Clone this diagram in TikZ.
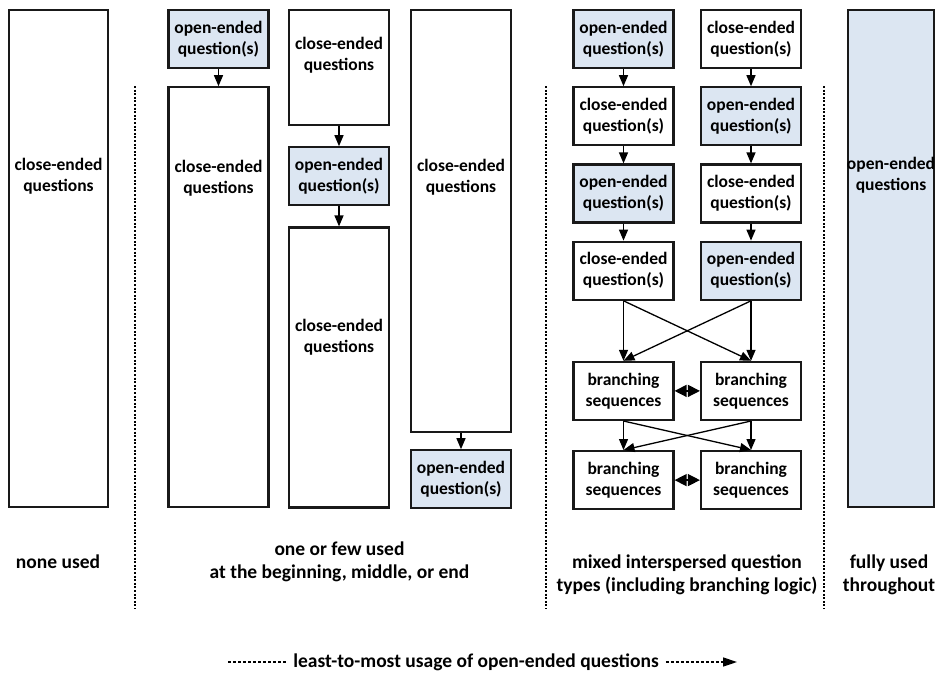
\documentclass[tikz,border=0pt]{standalone}
\usepackage{fontspec}
\setmainfont{Carlito}
\usetikzlibrary{arrows.meta, positioning}
\definecolor{openblue}{HTML}{DCE6F2}
\newcommand{\boxfont}{\bfseries\fontsize{17.5}{21}\selectfont}
\newcommand{\capfont}{\bfseries\fontsize{19.5}{23}\selectfont}

\begin{document}
\begin{tikzpicture}[x=1pt, y=-1pt,
    qbox/.style={draw=black!90, line width=2.2pt, fill=white, minimum width=100pt,
        minimum height=58pt, inner sep=2pt, align=center, font=\boxfont},
    obox/.style={qbox, fill=openblue},
    boxtext/.style={anchor=center, align=center, font=\boxfont},
    footlabel/.style={align=center, font=\capfont},
    flow/.style={-{Triangle[width=9pt,length=11pt]}, line width=1.3pt},
    bothway/.style={{Triangle[width=12pt,length=12pt]}-{Triangle[width=12pt,length=12pt]}, line width=1.3pt},
    sep/.style={line width=2.2pt, dash pattern=on 2pt off 1.6pt},
    trend/.style={line width=1.6pt, dash pattern=on 3pt off 2pt}]
    \useasboundingbox (0,0) rectangle (949,673);

    % none used
    \node[qbox, minimum width=99pt, minimum height=497pt, anchor=north,
        label={[boxtext, yshift=-167pt]north:close-ended\\questions}] (none) at (58.5,9) {};

    % one or few used
    \node[obox, anchor=north]       (begopen)   at (218.5,9)    {open-ended\\question(s)};
    \node[qbox, minimum height=420pt, below=17pt of begopen,
        label={[boxtext, yshift=-92pt]north:close-ended\\questions}] (begclose) {};

    \node[qbox, minimum height=115pt, anchor=north,
        label={[boxtext, yshift=-46pt]north:close-ended\\questions}] (midclosea) at (339,9) {};
    \node[obox, below=20pt of midclosea]    (midopen)   {open-ended\\question(s)};
    \node[qbox, minimum height=280pt, below=20pt of midopen,
        label={[boxtext, yshift=-111pt]north:close-ended\\questions}] (midcloseb) {};

    \node[qbox, minimum height=422pt, anchor=north,
        label={[boxtext, yshift=-168pt]north:close-ended\\questions}] (endclose) at (461,9) {};
    \node[obox, below=16pt of endclose]     (endopen)   {open-ended\\question(s)};

    % mixed
    \node[obox, anchor=north]       (mixa1) at (623.5,9)    {open-ended\\question(s)};
    \node[qbox, below=17pt of mixa1]        (mixa2)     {close-ended\\question(s)};
    \node[obox, below=17pt of mixa2]        (mixa3)     {open-ended\\question(s)};
    \node[qbox, below=17pt of mixa3]        (mixa4)     {close-ended\\question(s)};

    \node[qbox, anchor=north]       (mixb1) at (751,9)      {close-ended\\question(s)};
    \node[obox, below=17pt of mixb1]        (mixb2)     {open-ended\\question(s)};
    \node[qbox, below=17pt of mixb2]        (mixb3)     {close-ended\\question(s)};
    \node[obox, below=17pt of mixb3]        (mixb4)     {open-ended\\question(s)};

    \node[qbox, below=60pt of mixa4]        (brancha1)  {branching\\sequences};
    \node[qbox, below=60pt of mixb4]        (branchb1)  {branching\\sequences};
    \node[qbox, below=29pt of brancha1]     (brancha2)  {branching\\sequences};
    \node[qbox, below=29pt of branchb1]     (branchb2)  {branching\\sequences};

    % fully used
    \node[obox, minimum width=86pt, minimum height=497pt, anchor=north,
        label={[boxtext, yshift=-166pt]north:open-ended\\questions}] (full) at (891,9) {};

    % arrows
    \foreach \a/\b in {begopen/begclose, midclosea/midopen, midopen/midcloseb, endclose/endopen,
        mixa1/mixa2, mixa2/mixa3, mixa3/mixa4, mixb1/mixb2, mixb2/mixb3, mixb3/mixb4,
        mixa4/brancha1, mixb4/branchb1, brancha1/brancha2, branchb1/branchb2}
        \draw[flow] (\a) -- (\b);
    \draw[flow] (mixa4.south) -- (branchb1.north);
    \draw[flow] (mixb4.south) -- (brancha1.north);
    \draw[flow] (brancha1.south) -- (branchb2.north);
    \draw[flow] (branchb1.south) -- (brancha2.north);
    \draw[bothway] (brancha1) -- (branchb1);
    \draw[bothway] (brancha2) -- (branchb2);

    % separators
    \foreach \x in {135,546,824}
        \draw[sep] (\x,86) -- (\x,609);

    % captions
    \node[footlabel] (lnone) at (58,562)    {none used};
    \node[footlabel] (lfew)  at (339.5,562) {one or few used\\at the beginning, middle, or end};
    \node[footlabel] (lmix)  at (687,574.5) {mixed interspersed question\\types (including branching logic)};
    \node[footlabel] (lfull) at (889,574.5) {fully used\\throughout};

    % usage axis
    \node[footlabel, inner sep=7pt] (usage) at (476,662) {least-to-most usage of open-ended questions};
    \coordinate (usestart) at (228,662);
    \coordinate (useend)   at (737,662);
    \draw[trend] (usestart) -- (usage.west);
    \draw[trend, -{Triangle[width=9pt,length=14pt]}] (usage.east) -- (useend);
\end{tikzpicture}
\end{document}
